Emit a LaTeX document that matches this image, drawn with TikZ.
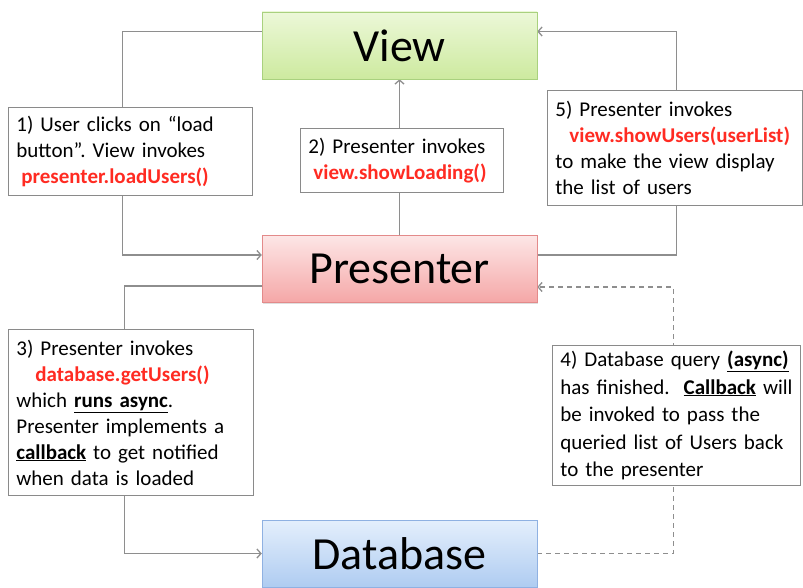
\documentclass[tikz,border=0pt]{standalone}
\usepackage{fontspec}
\setmainfont{Carlito}
\usepackage{xcolor}
\usepackage{tikz}
\usetikzlibrary{arrows.meta, backgrounds, shadows}
\definecolor{viewTop}{HTML}{ECF8D8}
\definecolor{viewBottom}{HTML}{CDEA9F}
\definecolor{viewBorder}{HTML}{A9D17E}
\definecolor{presTop}{HTML}{FDE6E6}
\definecolor{presBottom}{HTML}{F5A7A7}
\definecolor{presBorder}{HTML}{E38A8A}
\definecolor{dbTop}{HTML}{E4EFFC}
\definecolor{dbBottom}{HTML}{AFCCF1}
\definecolor{dbBorder}{HTML}{8FB1E2}
\definecolor{lineGrey}{HTML}{8E8E8E}
\definecolor{noteGrey}{HTML}{8A8A8A}
\definecolor{callRed}{HTML}{FF2B22}
\newcommand{\redcall}[1]{\mbox{\textcolor{callRed}{\textbf{#1}}}}
\newcommand{\keyword}[1]{\underline{\textbf{#1}}}
\frenchspacing

\begin{document}
\begin{tikzpicture}[
    x=1pt, y=-1pt,
    layer/.style={rectangle, minimum width=275pt, minimum height=67pt, inner sep=0pt,
                  font=\fontsize{46}{50}\selectfont,
                  drop shadow={opacity=0.25, shadow xshift=1pt, shadow yshift=-1.5pt}},
    note/.style={rectangle, draw=noteGrey, fill=white, line width=0.8pt, anchor=north west,
                 align=left, inner xsep=8pt, inner ysep=3pt,
                 font=\fontsize{21}{26}\selectfont},
    conn/.style={-{Straight Barb[length=4pt, width=9pt]}, line width=1.3pt, color=lineGrey}
]
\useasboundingbox (0,0) rectangle (803,588);

% View
\node[layer, top color=viewTop, bottom color=viewBottom, draw=viewBorder] (view) at (399.5,45.5) {View};

% Presenter
\node[layer, top color=presTop, bottom color=presBottom, draw=presBorder] (presenter) at (399.5,269) {Presenter};

% Database
\node[layer, top color=dbTop, bottom color=dbBottom, draw=dbBorder] (database) at (399.5,553.5) {Database};

% Notes
\node[note, text width=228pt, minimum height=88pt] (note1) at (8,107)
  {1) User clicks on “load\\ button”. View invokes\\ \hspace*{5pt}\redcall{presenter.loadUsers()}};
\node[note, text width=187pt, minimum height=64pt] (note2) at (300,128)
  {2) Presenter invokes\\ \hspace*{5pt}\redcall{view.showLoading()}};
\node[note, text width=239pt, minimum height=115pt] (note5) at (547,90)
  {5) Presenter invokes\\ \hspace*{14pt}\redcall{view.showUsers(userList)}\\ to make the view display\\ the list of users};
\node[note, text width=229pt, minimum height=166pt] (note3) at (8,329)
  {3) Presenter invokes\\ \hspace*{19pt}\redcall{database.getUsers()}\\ which \keyword{runs async}.\\ Presenter implements a\\ \keyword{callback} to get notified\\ when data is loaded};
\node[note, text width=232pt, minimum height=140pt, font=\fontsize{21}{27.5}\selectfont] (note4) at (552,345)
  {4) Database query \keyword{(async)}\\ \mbox{has finished.\ \ \keyword{Callback} will}\\ be invoked to pass the\\ queried list of Users back\\ to the presenter};

% Connectors
\begin{scope}[on background layer]
\draw[conn] ([yshift=14pt]view.west) -- ++(-139,0) |- ([yshift=14pt]presenter.west);
\draw[conn] (presenter.north) -- (view.south);
\draw[conn] ([yshift=14pt]presenter.east) -- ++(139,0) |- ([yshift=14pt]view.east);
\draw[conn] ([yshift=-17pt]presenter.west) -- ++(-137,0) |- (database.west);
\draw[conn, dashed, dash pattern=on 5pt off 4pt] (database.east) -- ++(136,0) |- ([yshift=-18pt]presenter.east);
\end{scope}

\end{tikzpicture}
\end{document}
